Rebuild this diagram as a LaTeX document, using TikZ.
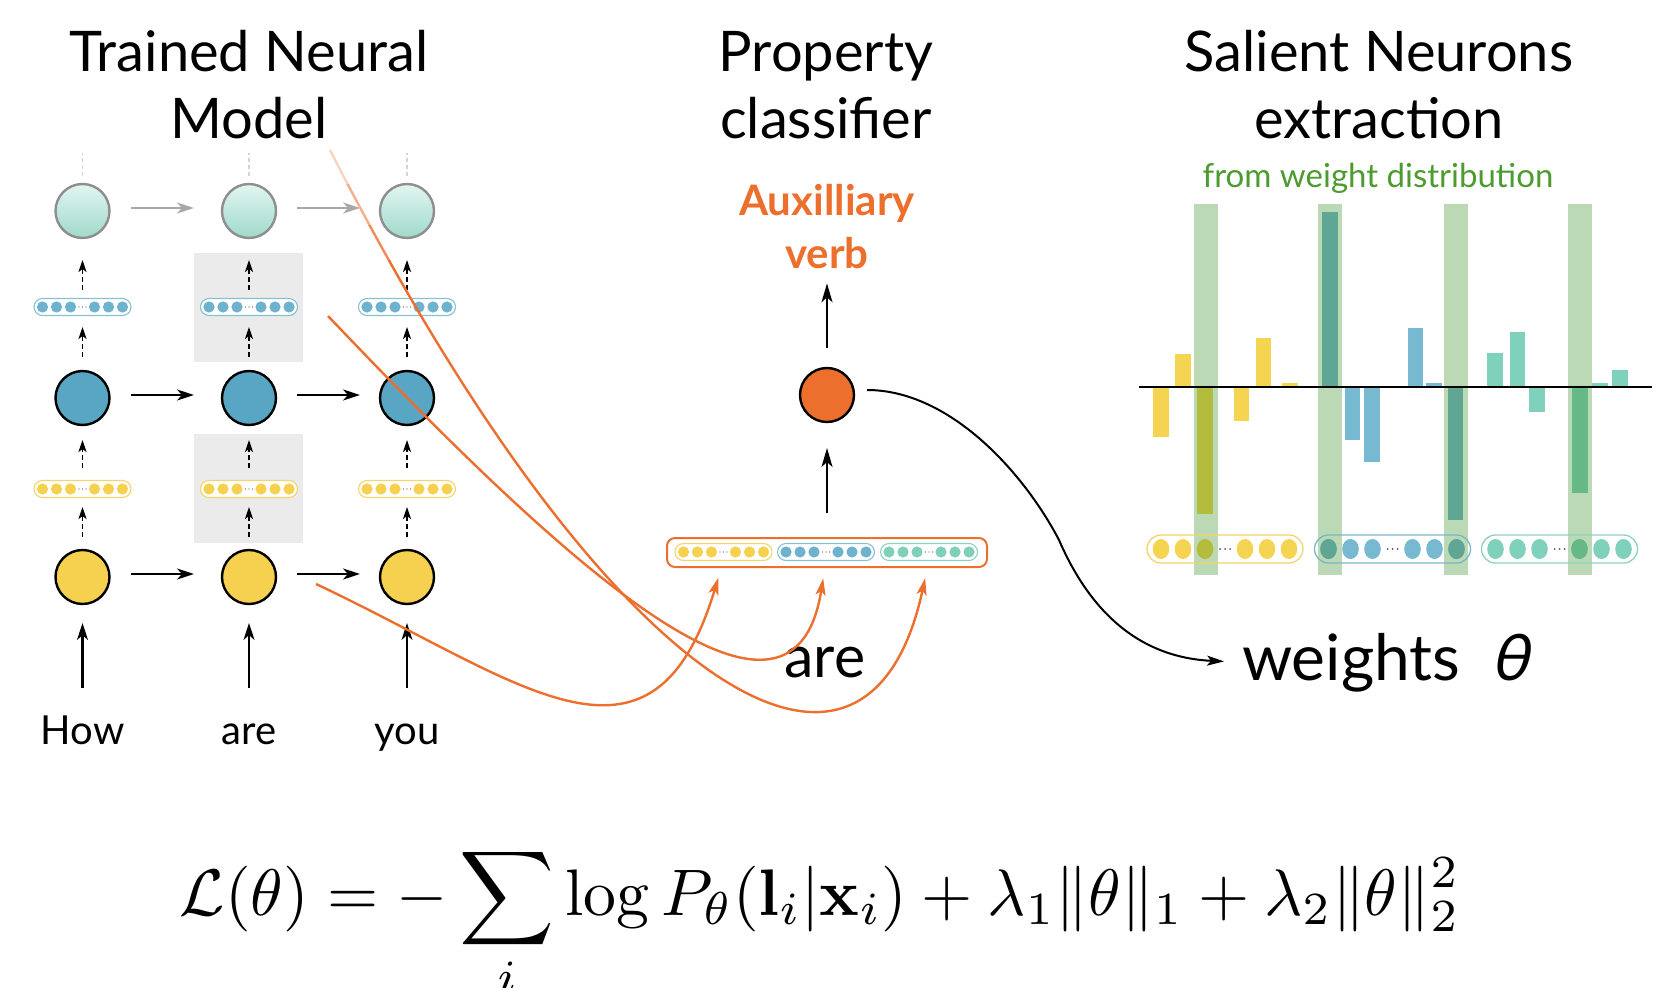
\documentclass[tikz,border=0pt]{standalone}
\usepackage[no-math]{fontspec}
\setmainfont{Lato}
\newfontfamily\slantlato[FakeSlant=0.22]{Lato}
\usepackage{graphicx}
\usetikzlibrary{arrows.meta}
\definecolor{boxgray}{HTML}{EBEBEB}
\definecolor{tealtop}{HTML}{E2F5F1}
\definecolor{tealbot}{HTML}{9FDACA}
\definecolor{tealedge}{HTML}{8E8E8E}
\definecolor{bigblue}{HTML}{58A6C4}
\definecolor{bigyellow}{HTML}{F5D14F}
\definecolor{arrowgray}{HTML}{A8A8A8}
\definecolor{lightdash}{HTML}{D4D4D4}
\definecolor{bluedot}{HTML}{6DB3CE}
\definecolor{blueedge}{HTML}{86C1D6}
\definecolor{yellowdot}{HTML}{F5D14F}
\definecolor{yellowedge}{HTML}{F3D56C}
\definecolor{tealdot}{HTML}{7ED0BA}
\definecolor{tealedgeb}{HTML}{8BD3C1}
\definecolor{orangeA}{HTML}{EC6F2D}
\definecolor{greentext}{HTML}{4B9B2E}
\definecolor{hlgreen}{HTML}{BBD9B5}
\definecolor{olivebar}{HTML}{B4BC3E}
\definecolor{dteal}{HTML}{5FA794}
\definecolor{dgreen}{HTML}{66B886}
\definecolor{baryellow}{HTML}{F5D452}
\definecolor{barblue}{HTML}{76B9D1}
\definecolor{barteal}{HTML}{80D1BC}
\definecolor{dotgray}{HTML}{555555}
\definecolor{ryedge}{HTML}{F2D468}
\definecolor{rbedge}{HTML}{7BB5C8}
\definecolor{rtedge}{HTML}{8CD2C0}

\newcommand{\lpill}[5]{%
  \node[lpillbox, draw=#5] (#1) at (#2,#3) {};
  \foreach \o in {-40,-26,-12,12,26,40}{\fill[#4] ([xshift=\o pt]#1.center) circle[radius=5.6pt];}
  \foreach \o in {-3.5,0,3.5}{\fill[dotgray] ([xshift=\o pt]#1.center) circle[radius=0.6pt];}
}
\newcommand{\rpill}[5]{%
  \node[rpillbox, draw=#5] (#1) at (#2,#3) {};
  \foreach \o in {-64,-42,-20,20,42,64}{\fill[#4] ([xshift=\o pt]#1.center) ellipse[x radius=8.3pt, y radius=10pt];}
  \foreach \o in {-5,0,5}{\fill[dotgray] ([xshift=\o pt]#1.center) circle[radius=1pt];}
}

\begin{document}
\begin{tikzpicture}[x=1pt,y=-1pt,
  every node/.style={inner sep=0pt, outer sep=0pt},
  titletext/.style={font=\fontsize{56}{66}\selectfont, anchor=base},
  wordtext/.style={font=\fontsize{40}{48}\selectfont, anchor=base},
  graybox/.style={fill=boxgray, minimum width=109pt, minimum height=109pt},
  tealneuron/.style={circle, minimum size=54pt, draw=tealedge, line width=2.4pt, top color=tealtop, bottom color=tealbot},
  blueneuron/.style={circle, minimum size=54pt, draw=black, line width=2.4pt, fill=bigblue},
  yellowneuron/.style={circle, minimum size=54pt, draw=black, line width=2.4pt, fill=bigyellow},
  orangeneuron/.style={circle, minimum size=54pt, draw=black, line width=2.4pt, fill=orangeA},
  lpillbox/.style={rectangle, rounded corners=8.5pt, minimum width=97pt, minimum height=17pt, line width=1.1pt, fill=white},
  rpillbox/.style={rectangle, rounded corners=14pt, minimum width=156pt, minimum height=28pt, line width=1.3pt},
  harrow/.style={-{Stealth[length=17pt,width=11pt,inset=5pt]}, line width=2.2pt},
  grayarrow/.style={harrow, draw=arrowgray, color=arrowgray},
  varrow/.style={-{Stealth[length=19pt,width=11pt,inset=5pt]}, line width=2.2pt},
  dasharrow/.style={-{Stealth[length=12pt,width=8pt,inset=3pt]}, line width=1.6pt, dash pattern=on 5pt off 3pt},
  topdash/.style={draw=lightdash, line width=1.2pt, dash pattern=on 4pt off 3pt},
  oline/.style={draw=orangeA, color=orangeA, line width=2.4pt},
  ocurve/.style={oline, -{Stealth[length=17pt,width=10pt,inset=4pt]}},
  bcurve/.style={draw=black, line width=2pt, -{Stealth[length=17pt,width=10pt,inset=4pt]}},
]
\useasboundingbox (0,0) rectangle (1677,987);

% ---------- titles ----------
\node[titletext] (t1a) at (249,72) {Trained Neural};
\node[titletext] (t1b) at (249,139) {Model};
\node[titletext] (t2a) at (826,72) {Property};
\node[titletext] (t2b) at (826,139) {classifier};
\node[titletext] (t3a) at (1379,72) {Salient Neurons};
\node[titletext] (t3b) at (1379,139) {extraction};
\node[font=\fontsize{33}{40}\selectfont, text=greentext, anchor=base] (sub) at (1378,187) {from weight distribution};

% ---------- left: trained model ----------
\node[graybox] (gb1) at (248.5,307.5) {};
\node[graybox] (gb2) at (248.5,488.5) {};

\foreach \i/\x/\w in {1/82.5/How,2/249/are,3/407/you}{
  \node[tealneuron] (t\i) at (\x,211) {};
  \node[blueneuron] (b\i) at (\x,398) {};
  \node[yellowneuron] (y\i) at (\x,577) {};
  \coordinate (top\i) at (\x,153);
  \coordinate (in\i) at (\x,688);
  \lpill{bp\i}{\x}{307}{bluedot}{blueedge}
  \lpill{yp\i}{\x}{489}{yellowdot}{yellowedge}
  \draw[topdash, shorten <=8pt] (t\i.north) -- (top\i);
  \draw[dasharrow, shorten <=8.5pt, shorten >=22pt] (bp\i.north) -- (t\i.south);
  \draw[dasharrow, shorten <=14pt, shorten >=11.5pt] (b\i.north) -- (bp\i.south);
  \draw[dasharrow, shorten <=12.5pt, shorten >=15pt] (yp\i.north) -- (b\i.south);
  \draw[dasharrow, shorten <=13pt, shorten >=9.5pt] (y\i.north) -- (yp\i.south);
  \node[wordtext] (w\i) at (\x,744) {\w};
  \draw[harrow, shorten >=19pt] (in\i) -- (y\i.south);
}

\draw[grayarrow, shorten <=21.5pt, shorten >=28pt] ([yshift=3pt]t1.east) -- ([yshift=3pt]t2.west);
\draw[grayarrow, shorten <=21pt, shorten >=20pt] ([yshift=3pt]t2.east) -- ([yshift=3pt]t3.west);
\draw[harrow, shorten <=21.5pt, shorten >=28pt] ([yshift=3pt]b1.east) -- ([yshift=3pt]b2.west);
\draw[harrow, shorten <=21pt, shorten >=20pt] ([yshift=3pt]b2.east) -- ([yshift=3pt]b3.west);
\draw[harrow, shorten <=21.5pt, shorten >=28pt] ([yshift=3pt]y1.east) -- ([yshift=3pt]y2.west);
\draw[harrow, shorten <=21pt, shorten >=20pt] ([yshift=3pt]y2.east) -- ([yshift=3pt]y3.west);

% ---------- middle: property classifier ----------
\node[font=\bfseries\fontsize{42}{50}\selectfont, text=orangeA, anchor=base] (aux) at (827,215) {Auxilliary};
\node[font=\bfseries\fontsize{42}{50}\selectfont, text=orangeA, anchor=base] (verb) at (827,268) {verb};
\node[orangeneuron] (oc) at (827,395) {};
\node[draw=orangeA, line width=2pt, rounded corners=8pt, minimum width=320pt, minimum height=29pt] (cbox) at (827,552.5) {};
\lpill{cy}{723.5}{552}{yellowdot}{yellowedge}
\lpill{cb}{826}{552}{bluedot}{blueedge}
\lpill{ct}{929}{552}{tealdot}{tealedgeb}
\draw[varrow, shorten <=20pt, shorten >=15pt] (oc.north) -- (verb.south);
\draw[varrow, shorten <=25pt, shorten >=26pt] (cbox.north) -- (oc.south);
\node[font=\fontsize{59}{70}\selectfont, anchor=base] (are2) at (825,677) {are};

% ---------- right: salient neurons ----------
\foreach \a/\b in {1194/1218,1318/1342,1444/1468,1568/1592}{
  \fill[hlgreen] (\a,204) rectangle (\b,575);
}
\rpill{ryp}{1225}{549}{baryellow}{ryedge}
\rpill{rbp}{1392.5}{549}{barblue}{rbedge}
\rpill{rtp}{1559.5}{549}{barteal}{rtedge}
\fill[olivebar] ([xshift=-20pt]ryp.center) ellipse[x radius=8.3pt, y radius=10pt];
\fill[dteal] ([xshift=-64pt]rbp.center) ellipse[x radius=8.3pt, y radius=10pt];
\fill[dteal] ([xshift=64pt]rbp.center) ellipse[x radius=8.3pt, y radius=10pt];
\fill[dgreen] ([xshift=20pt]rtp.center) ellipse[x radius=8.3pt, y radius=10pt];

\foreach \a/\b/\e/\c in {
  1153/1169/437/baryellow, 1175/1191/354/baryellow, 1197/1213/514/olivebar,
  1234/1249/421/baryellow, 1256/1271/338/baryellow, 1282/1298/383/baryellow,
  1322/1338/212/dteal, 1345/1360/440/barblue, 1364/1380/462/barblue,
  1408/1423/328/barblue, 1426/1442/383/barblue, 1448/1463/520/dteal,
  1487/1503/353/barteal, 1510/1525/332/barteal, 1529/1545/412/barteal,
  1572/1588/493/dgreen, 1592/1608/383/barteal, 1612/1628/370/barteal}{
  \fill[\c] (\a,387) rectangle (\b,\e);
}
\coordinate (axl) at (1139,387);
\coordinate (axr) at (1652,387);
\draw[line width=2.5pt] (axl) -- (axr);

\node[font=\fontsize{64}{76}\selectfont, anchor=base west] (wts) at (1242,680) {weights\hspace{30pt}{\slantlato θ}};
\draw[bcurve, shorten >=18pt] ([xshift=13pt,yshift=5pt]oc.east) .. controls (950,390) and (1024,473) .. (1059,540) .. controls (1085,600) and (1130,657) .. (wts.west);

% ---------- orange connectors ----------
\coordinate (oA) at (316,584);
\coordinate (oB) at (328,316);
\coordinate (oC) at (330,150);
\draw[ocurve, shorten >=18pt] (oA) .. controls (520,680) and (652,798) .. (cy.south);
\draw[ocurve, shorten >=18pt] (oB) .. controls (560,560) and (792,775) .. (cb.south);
% curve C fades towards its upper end
\begin{scope}
  \clip (0,0) rectangle (1677,185);
  \draw[oline, draw=orangeA!30] (oC) .. controls (600,680) and (865,855) .. (ct.south);
\end{scope}
\begin{scope}
  \clip (0,185) rectangle (1677,225);
  \draw[oline, draw=orangeA!55] (oC) .. controls (600,680) and (865,855) .. (ct.south);
\end{scope}
\begin{scope}
  \clip (0,225) rectangle (1677,260);
  \draw[oline, draw=orangeA!80] (oC) .. controls (600,680) and (865,855) .. (ct.south);
\end{scope}
\begin{scope}
  \clip (0,260) rectangle (1677,987);
  \draw[ocurve, shorten >=18pt] (oC) .. controls (600,680) and (865,855) .. (ct.south);
\end{scope}

% ---------- loss ----------
\node[anchor=base] (eq) at (820,915) {\resizebox{1280pt}{!}{$\displaystyle \mathcal{L}(\theta) = -\sum_i \log P_\theta(\mathbf{l}_i|\mathbf{x}_i) + \lambda_1\|\theta\|_1 + \lambda_2\|\theta\|_2^2$}};
\end{tikzpicture}
\end{document}
